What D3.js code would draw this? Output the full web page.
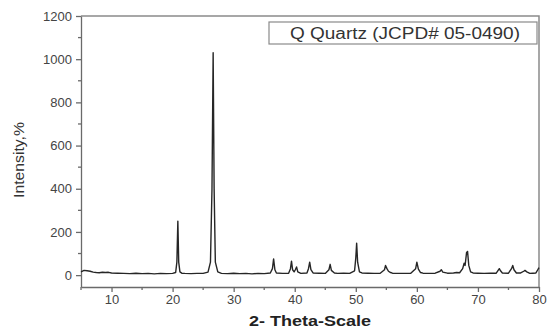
<!DOCTYPE html>
<html lang="en">
<head>
  <meta charset="UTF-8">
  <title>XRD Quartz</title>
  <style>
    body { margin: 0; background: #fff; }
    svg text { font-family: "Liberation Sans", Arial, sans-serif; }
  </style>
</head>
<body>
  <svg id="chart" width="547" height="328"></svg>
  <script src="https://cdn.jsdelivr.net/npm/d3@7"></script>
  <script>

  // 2-theta positions (deg) and intensity
  var theta = [5, 5.5, 6, 6.5, 7, 7.5, 8, 8.5, 9, 9.5, 10, 11, 12, 13, 14, 15, 16, 17, 18, 19, 20, 20.5, 20.7, 20.86, 21.0, 21.2, 21.5,
    22, 23, 24, 25, 25.8, 26.2, 26.45, 26.64, 26.8, 27.0, 27.4, 28, 29, 30, 31, 32, 33, 34, 35, 36, 36.35, 36.54, 36.75, 37,
    38, 39, 39.3, 39.47, 39.65, 39.9, 40.1, 40.3, 40.5, 41, 42, 42.25, 42.45, 42.65, 43, 44, 45, 45.6, 45.8, 46.0, 46.5,
    47, 48, 49, 49.8, 50.0, 50.14, 50.3, 50.6, 51, 52, 53, 54, 54.7, 54.87, 55.1, 55.35, 55.7, 56, 57, 58, 59, 59.8, 60.0,
    60.25, 60.6, 61, 62, 63, 63.8, 64.0, 64.25, 65, 66, 66.5, 67, 67.5, 67.74, 67.9, 68.14, 68.3, 68.5, 68.8, 69.2, 70,
    71, 72, 73, 73.5, 73.7, 74, 75, 75.5, 75.7, 75.9, 76.3, 77, 77.5, 77.7, 78, 78.5, 79, 79.5, 79.8, 80];
  var intensity = [15, 22, 20, 18, 14, 12, 11, 13, 12, 13, 10, 9, 8, 7, 9, 7, 8, 6, 8, 7, 8, 12, 60, 250, 60, 15, 9,
    8, 7, 8, 8, 14, 60, 400, 1030, 400, 60, 15, 8, 7, 9, 7, 8, 6, 8, 7, 10, 30, 75, 25, 10,
    8, 9, 30, 65, 25, 15, 25, 38, 15, 8, 10, 30, 60, 25, 10, 9, 8, 25, 50, 22, 10,
    8, 9, 8, 20, 80, 148, 60, 15, 10, 9, 8, 9, 25, 45, 30, 18, 12, 9, 8, 8, 9, 30, 60,
    28, 12, 9, 8, 9, 18, 25, 14, 9, 10, 12, 11, 30, 55, 45, 105, 110, 45, 15, 10, 9,
    8, 9, 9, 30, 20, 10, 9, 30, 45, 25, 10, 10, 18, 22, 15, 8, 9, 10, 25, 35];

  var xTicks = [10, 20, 30, 40, 50, 60, 70, 80];
  var yTicks = [0, 200, 400, 600, 800, 1000, 1200];
  var legendLabel = "Q Quartz (JCPD# 05-0490)";

  var svg = d3.select("#chart");
  var mLeft = 81, mRight = 539, mTop = 16, mBottom = 287;

  var x = d3.scaleLinear().domain([5, 80]).range([mLeft, mRight]);
  var y = d3.scaleLinear().domain([-55, 1200]).range([mBottom, mTop]);

  var axisCol = "#6a6a6a";

  // frame top and right
  svg.append("path")
    .attr("d", `M${mLeft},${mTop}H${mRight}V${mBottom}`)
    .attr("fill", "none")
    .attr("stroke", "#8a8a8a")
    .attr("stroke-width", 1.5);

  // minor ticks
  var xMinor = d3.range(5, 81, 5).filter(v => xTicks.indexOf(v) < 0);
  var yMinor = d3.range(100, 1200, 200);

  var gx = svg.append("g").attr("transform", `translate(0,${mBottom})`)
    .call(d3.axisBottom(x).tickValues(xTicks).tickFormat(d3.format("d"))
      .tickSize(5).tickSizeOuter(0).tickPadding(3));
  gx.selectAll(".minor").data(xMinor).enter().append("line")
    .attr("class", "minor")
    .attr("x1", d => x(d)).attr("x2", d => x(d)).attr("y1", 0).attr("y2", 3);

  var gy = svg.append("g").attr("transform", `translate(${mLeft},0)`)
    .call(d3.axisLeft(y).tickValues(yTicks).tickFormat(d3.format("d"))
      .tickSize(5).tickSizeOuter(0).tickPadding(4));
  gy.selectAll(".minor").data(yMinor).enter().append("line")
    .attr("class", "minor")
    .attr("y1", d => y(d)).attr("y2", d => y(d)).attr("x1", 0).attr("x2", -3);

  svg.selectAll(".domain, .tick line, .minor").attr("stroke", axisCol).attr("stroke-width", 1.3);
  svg.selectAll(".tick text")
    .attr("fill", "#444")
    .attr("font-size", 13);

  // pattern line
  var line = d3.line()
    .x((d, i) => x(theta[i]))
    .y(d => y(d));

  svg.append("path")
    .datum(intensity)
    .attr("d", line)
    .attr("fill", "none")
    .attr("stroke", "#262626")
    .attr("stroke-width", 1.4)
    .attr("stroke-linejoin", "round");

  // legend
  svg.append("rect")
    .attr("x", 269).attr("y", 22).attr("width", 268).attr("height", 22)
    .attr("fill", "#fff").attr("stroke", "#8a8a8a").attr("stroke-width", 1.2);
  svg.append("text")
    .attr("x", 290).attr("y", 39)
    .attr("font-size", 16)
    .attr("fill", "#333")
    .attr("textLength", 230)
    .attr("lengthAdjust", "spacingAndGlyphs")
    .text(legendLabel);

  // axis titles
  svg.append("text")
    .attr("x", 310).attr("y", 326)
    .attr("text-anchor", "middle")
    .attr("font-size", 14)
    .attr("font-weight", "bold")
    .attr("fill", "#222")
    .attr("textLength", 122)
    .attr("lengthAdjust", "spacingAndGlyphs")
    .text("2- Theta-Scale");

  svg.append("text")
    .attr("transform", "translate(24,160) rotate(-90)")
    .attr("text-anchor", "middle")
    .attr("font-size", 15)
    .attr("fill", "#333")
    .attr("textLength", 76)
    .attr("lengthAdjust", "spacingAndGlyphs")
    .text("Intensity,%");

  </script>
</body>
</html>
